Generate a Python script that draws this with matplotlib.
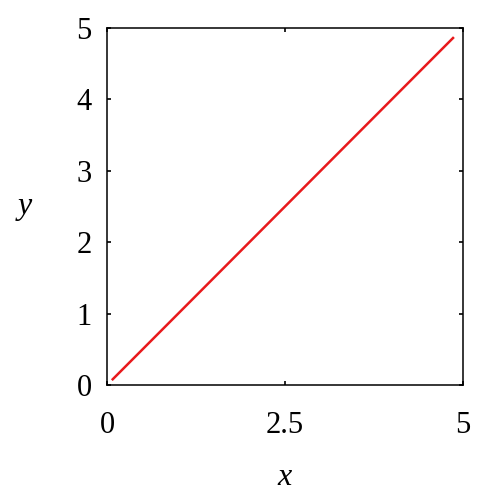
import matplotlib
matplotlib.use("Agg")
import matplotlib.pyplot as plt

x = [0.08, 4.86]
y = [0.08, 4.86]
xticks = [0, 2.5, 5]
xticklabels = ["0", "2.5", "5"]
yticks = [0, 1, 2, 3, 4, 5]

plt.rcParams["font.family"] = "Liberation Serif"

fig = plt.figure(figsize=(4.85, 5.0), dpi=100)
ax = fig.add_axes([107 / 485, 1 - 385 / 500, 356 / 485, 357 / 500])
ax.plot(x, y, color="#e8191c", linewidth=1.8)
ax.set_xlim(0, 5)
ax.set_ylim(0, 5)
ax.set_xticks(xticks)
ax.set_xticklabels(xticklabels)
ax.set_yticks(yticks)
ax.tick_params(direction="in", length=3, width=1.2, top=True, right=True,
               labelsize=22)
ax.tick_params(axis="x", pad=19)
ax.tick_params(axis="y", pad=11)
for s in ax.spines.values():
    s.set_linewidth(1.1)
ax.set_xlabel("x", fontsize=23, style="italic", labelpad=16)
ax.set_ylabel("y", fontsize=23, style="italic", rotation=0, labelpad=37, va="center")
fig.savefig("out.png", dpi=100)
